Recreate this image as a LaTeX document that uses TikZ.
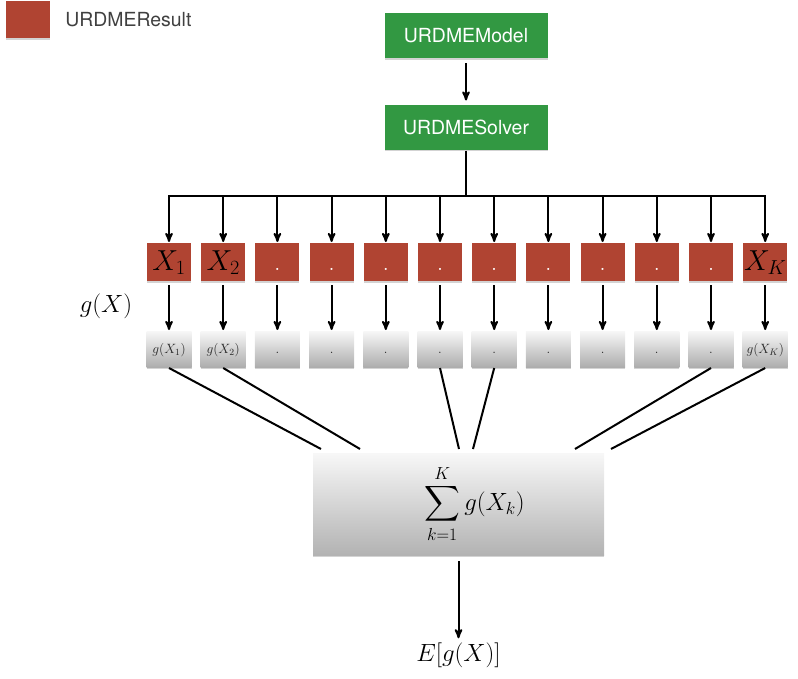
\RequirePackage{fix-cm}
\documentclass[tikz,border=0pt]{standalone}
\usepackage{exscale}
\usepackage{fontspec}
\setsansfont{TeX Gyre Heros}
\usetikzlibrary{arrows}
\usetikzlibrary{shadows}

\definecolor{urdmered}{RGB}{176,68,50}
\definecolor{urdmegreen}{RGB}{50,152,66}

\begin{document}
\begin{tikzpicture}[x = 1bp, y = -1bp, line width = 2bp]
\tikzset{
   node distance = 54.2bp, >=stealth',
   flatbox/.style = {rectangle, inner sep = 0pt, drop shadow = {shadow xshift = 0bp, shadow yshift = -1.5bp, opacity = 0.35}},
   urdme/.style = {flatbox, fill = urdmegreen, text = white, minimum width = 163bp, minimum height = 45bp, font = \sffamily\fontsize{19.5}{22}\selectfont},
   result/.style = {flatbox, fill = urdmered, minimum width = 44bp, minimum height = 38bp, text height = 19bp, text depth = 3bp, font = \fontsize{29}{32}\selectfont},
   result_dot/.style = {result, text = white, font = \fontsize{26}{30}\selectfont},
   mapped/.style = {flatbox, top color = black!3, bottom color = black!32, minimum width = 45bp, minimum height = 36bp, text = black!85, text height = 10bp, text depth = 2bp, font = \fontsize{13.5}{15}\selectfont},
   summed/.style = {flatbox, top color = black!3, bottom color = black!30, minimum width = 291bp, minimum height = 102bp, font = \fontsize{25}{30}\selectfont},
   mathlabel/.style = {font = \fontsize{25}{30}\selectfont}
 }
  \useasboundingbox (0,0) rectangle (798,679);

  % legend
  \node[result, minimum height = 37bp] (legend) at (28,20) {};
  \node[anchor = west, text = black!75, font = \sffamily\fontsize{19.5}{22}\selectfont] (legend_text) at (61,20) {URDMEResult};

  % model and solver
  \node[urdme] (model) at (466,36) {URDMEModel};
  \node[urdme] (solver) [below of = model, node distance = 91bp] {URDMESolver}
        edge [<-, shorten < = 3bp, shorten > = 4bp] (model);
  \coordinate (bar) at (466,196);

  % realisations
  \node[result] (res_1) at (169,262) {$X_1$}
        edge [<-] (res_1 |- bar);
  \node[result] (res_2) [right of = res_1] {$X_2$}
        edge [<-] (res_2 |- bar);
  \node[result_dot] (res_3) [right of = res_2] {.}
        edge [<-] (res_3 |- bar);
  \node[result_dot] (res_4) [right of = res_3] {.}
        edge [<-] (res_4 |- bar);
  \node[result_dot] (res_5) [right of = res_4] {.}
        edge [<-] (res_5 |- bar);
  \node[result_dot] (res_6) [right of = res_5] {.}
        edge [<-] (res_6 |- bar);
  \node[result_dot] (res_7) [right of = res_6] {.}
        edge [<-] (res_7 |- bar);
  \node[result_dot] (res_8) [right of = res_7] {.}
        edge [<-] (res_8 |- bar);
  \node[result_dot] (res_9) [right of = res_8] {.}
        edge [<-] (res_9 |- bar);
  \node[result_dot] (res_10) [right of = res_9] {.}
        edge [<-] (res_10 |- bar);
  \node[result_dot] (res_11) [right of = res_10] {.}
        edge [<-] (res_11 |- bar);
  \node[result] (res_12) [right of = res_11] {$X_K$}
        edge [<-] (res_12 |- bar);

  \draw (solver) -- (bar);
  \draw[line cap = rect] (res_1 |- bar) -- (res_12 |- bar);

  \node[mathlabel] (g_label) at (106,306) {$g(X)$};

  % g of each realisation
  \node[mapped] (g_1) [below of = res_1, node distance = 87bp] {$g(X_1)$}
        edge [<-, shorten > = 3bp] (res_1);
  \node[mapped] (g_2) [below of = res_2, node distance = 87bp] {$g(X_2)$}
        edge [<-, shorten > = 3bp] (res_2);
  \node[mapped] (g_3) [below of = res_3, node distance = 87bp] {.}
        edge [<-, shorten > = 3bp] (res_3);
  \node[mapped] (g_4) [below of = res_4, node distance = 87bp] {.}
        edge [<-, shorten > = 3bp] (res_4);
  \node[mapped] (g_5) [below of = res_5, node distance = 87bp] {.}
        edge [<-, shorten > = 3bp] (res_5);
  \node[mapped] (g_6) [below of = res_6, node distance = 87bp] {.}
        edge [<-, shorten > = 3bp] (res_6);
  \node[mapped] (g_7) [below of = res_7, node distance = 87bp] {.}
        edge [<-, shorten > = 3bp] (res_7);
  \node[mapped] (g_8) [below of = res_8, node distance = 87bp] {.}
        edge [<-, shorten > = 3bp] (res_8);
  \node[mapped] (g_9) [below of = res_9, node distance = 87bp] {.}
        edge [<-, shorten > = 3bp] (res_9);
  \node[mapped] (g_10) [below of = res_10, node distance = 87bp] {.}
        edge [<-, shorten > = 3bp] (res_10);
  \node[mapped] (g_11) [below of = res_11, node distance = 87bp] {.}
        edge [<-, shorten > = 3bp] (res_11);
  \node[mapped] (g_12) [below of = res_12, node distance = 87bp] {$g(X_K)$}
        edge [<-, shorten > = 3bp] (res_12);

  % sum
  \node[summed] (sum) at (458.5,504) {\hspace*{32bp}$\displaystyle\sum_{k=1}^{K} g(X_k)$};
  \coordinate (sum_in_1) at ([shift = {(9,-3)}]sum.north west);
  \coordinate (sum_in_2) at ([shift = {(48,-3)}]sum.north west);
  \coordinate (sum_in_6) at ([shift = {(147,-3)}]sum.north west);
  \coordinate (sum_in_7) at ([shift = {(161,-3)}]sum.north west);
  \coordinate (sum_in_11) at ([shift = {(263,-3)}]sum.north west);
  \coordinate (sum_in_12) at ([shift = {(299,-3)}]sum.north west);
  \draw (g_1.south) -- (sum_in_1);
  \draw (g_2.south) -- (sum_in_2);
  \draw (g_6.south) -- (sum_in_6);
  \draw (g_7.south) -- (sum_in_7);
  \draw (g_11.south) -- (sum_in_11);
  \draw (g_12.south) -- (sum_in_12);

  \node[mathlabel] (expect) [below of = sum, node distance = 151bp] {$E[g(X)]$}
        edge [<-, shorten > = 5bp] (sum);

\end{tikzpicture}
\end{document}
